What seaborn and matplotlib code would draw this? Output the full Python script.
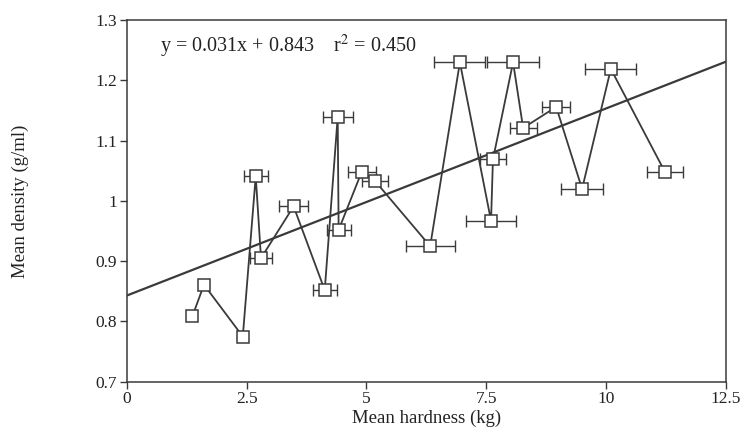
import matplotlib
matplotlib.use('Agg')
import matplotlib.pyplot as plt
import seaborn as sns
import pandas as pd

# mean hardness (kg), mean density (g/ml), hardness error half-width (kg)
hardness = [1.37, 1.61, 2.42, 2.69, 2.80, 3.48, 4.13, 4.40, 4.42, 4.90, 5.18,
            6.33, 6.95, 7.60, 7.64, 8.06, 8.27, 8.96, 9.50, 10.10, 11.23]
density = [0.809, 0.861, 0.775, 1.041, 0.905, 0.991, 0.852, 1.139, 0.952, 1.048, 1.033,
           0.925, 1.230, 0.967, 1.069, 1.230, 1.121, 1.156, 1.020, 1.219, 1.048]
hardness_err = [0.0, 0.0, 0.0, 0.25, 0.23, 0.31, 0.25, 0.31, 0.25, 0.29, 0.28,
                0.51, 0.53, 0.52, 0.28, 0.54, 0.28, 0.29, 0.43, 0.53, 0.37]

# fitted line end points
fit_x = [0.0, 12.5]
fit_y = [0.843, 1.231]

xticks = [0, 2.5, 5, 7.5, 10, 12.5]
xticklabels = ['0', '2.5', '5', '7.5', '10', '12.5']
yticks = [0.7, 0.8, 0.9, 1.0, 1.1, 1.2, 1.3]
yticklabels = ['0.7', '0.8', '0.9', '1', '1.1', '1.2', '1.3']

sns.set_style('ticks')
plt.rcParams['font.family'] = ['Liberation Serif', 'DejaVu Serif']
plt.rcParams['mathtext.fontset'] = 'stix'

ink = '#3a3a3a'
txt = '#222222'
df = pd.DataFrame({'hardness': hardness, 'density': density, 'err': hardness_err})

fig, ax = plt.subplots(figsize=(7.46, 4.47), dpi=100)
fig.subplots_adjust(left=0.170, right=0.973, top=0.955, bottom=0.146)

# regression line
sns.lineplot(x=fit_x, y=fit_y, ax=ax, color=ink, lw=1.6, zorder=1)

# horizontal error bars
bars = df[df['err'] > 0]
ax.errorbar(bars['hardness'], bars['density'], xerr=bars['err'], fmt='none',
            ecolor=ink, elinewidth=1.0, capsize=4, capthick=1.0, zorder=2)

# connected means, drawn in the given order, no aggregation
sns.lineplot(data=df, x='hardness', y='density', ax=ax, color=ink, lw=1.3,
             estimator=None, sort=False,
             marker='s', markersize=8, markerfacecolor='white',
             markeredgecolor=ink, markeredgewidth=1.1, zorder=3)

ax.set_xlim(0, 12.5)
ax.set_ylim(0.7, 1.3)
ax.set_xticks(xticks)
ax.set_xticklabels(xticklabels)
ax.set_yticks(yticks)
ax.set_yticklabels(yticklabels)
ax.tick_params(direction='out', length=5, width=1, colors=ink, labelsize=12.5,
               labelcolor=txt, pad=2)
for side in ax.spines.values():
    side.set_color(ink)
    side.set_linewidth(1.1)

ax.set_xlabel('Mean hardness (kg)', fontsize=13.5, color=txt)
ax.xaxis.set_label_coords(0.5, -0.1)
ax.xaxis.label.set_va('center')
ax.set_ylabel('Mean density (g/ml)', fontsize=13.5, color=txt)
ax.yaxis.set_label_coords(-0.178, 0.5)
ax.yaxis.label.set_va('center')

ax.text(0.69, 1.257, 'y = 0.031x + 0.843    r$^2$ = 0.450', fontsize=14.5,
        color=txt, va='center', ha='left')

fig.savefig('out.png', dpi=100)
